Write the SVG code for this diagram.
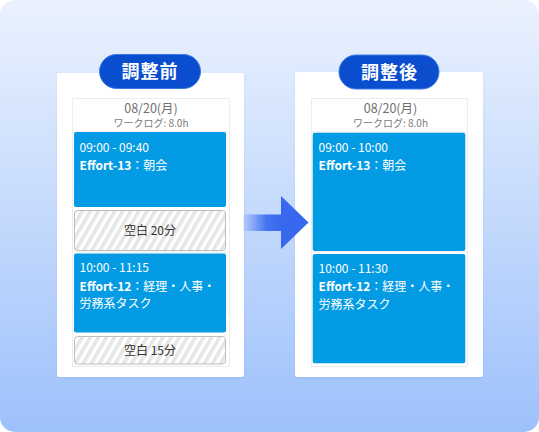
<svg xmlns="http://www.w3.org/2000/svg" width="539" height="432" viewBox="0 0 539 432">
  <defs>
    <linearGradient id="bg" x1="0" y1="0" x2="0" y2="1">
      <stop offset="0" stop-color="#ebf2fe"/>
      <stop offset="1" stop-color="#9dc1fb"/>
    </linearGradient>
    <linearGradient id="shaft" x1="243" y1="0" x2="282" y2="0" gradientUnits="userSpaceOnUse">
      <stop offset="0" stop-color="#3768ee" stop-opacity="0.08"/>
      <stop offset="0.6" stop-color="#3768ee" stop-opacity="0.9"/>
      <stop offset="1" stop-color="#3768ee"/>
    </linearGradient>
    <pattern id="stripes" width="7" height="7" patternUnits="userSpaceOnUse" patternTransform="rotate(30)">
      <rect width="7" height="7" fill="#ffffff"/>
      <rect width="3.6" height="7" fill="#e6e6e6"/>
    </pattern>
    <filter id="shadow" x="-10%" y="-10%" width="120%" height="120%">
      <feDropShadow dx="0" dy="1" stdDeviation="1.2" flood-color="#5d7fb8" flood-opacity="0.18"/>
    </filter>
  </defs>
  <style>
    text { font-family: "Noto Sans CJK JP", "Noto Sans", sans-serif; }
    .card { fill: #ffffff; filter: url(#shadow); }
    .col { fill: #ffffff; stroke: #ececec; stroke-width: 1; }
    .grid { stroke: #ececec; stroke-width: 1; }
    .badge { fill: #0a4ecf; stroke: #3c7ae4; stroke-width: 1; }
    .badge-t { fill: #ffffff; font-size: 18px; font-weight: 700; text-anchor: middle; letter-spacing: 1px; }
    .date { fill: #6f6f6f; font-size: 12.5px; text-anchor: middle; }
    .log { fill: #7a7a7a; font-size: 10px; text-anchor: middle; }
    .ev { fill: #049be5; }
    .ev-t { fill: #ffffff; font-size: 12px; }
    .b { font-weight: 700; }
    .gap { fill: url(#stripes); stroke: #bdbdbd; stroke-width: 1; }
    .gap-t { fill: #333333; font-size: 12px; text-anchor: middle; }
  </style>

  <rect x="0" y="0" width="539" height="432" rx="15" fill="url(#bg)"/>

  <g id="before">
    <rect class="card" x="57" y="73" width="187" height="304" rx="2"/>
    <rect class="col" x="72.5" y="98.5" width="157" height="268"/>
    <line class="grid" x1="72.5" y1="132" x2="229.5" y2="132"/>
    <line class="grid" x1="72.5" y1="192" x2="229.5" y2="192"/>
    <line class="grid" x1="72.5" y1="252" x2="229.5" y2="252"/>
    <line class="grid" x1="72.5" y1="313" x2="229.5" y2="313"/>
    <rect class="badge" x="99.5" y="54.5" width="101" height="34" rx="17"/>
    <text class="badge-t" x="150" y="78">調整前</text>
    <text class="date" x="151" y="112.5">08/20(月)</text>
    <text class="log" x="151" y="127">ワークログ: 8.0h</text>
    <g id="before-ev1">
      <rect class="ev" x="74" y="132" width="152" height="75" rx="2"/>
      <text class="ev-t" x="79.5" y="151.5">09:00 - 09:40</text>
      <text class="ev-t" x="79.5" y="169.5"><tspan class="b">Effort-13</tspan>：朝会</text>
    </g>
    <g id="before-gap1">
      <rect class="gap" x="74.5" y="210.5" width="151" height="40" rx="3"/>
      <text class="gap-t" x="150" y="235">空白 20分</text>
    </g>
    <g id="before-ev2">
      <rect class="ev" x="74" y="253.5" width="152" height="79" rx="2"/>
      <text class="ev-t" x="79.5" y="272">10:00 - 11:15</text>
      <text class="ev-t" x="79.5" y="290.5"><tspan class="b">Effort-12</tspan>：経理・人事・</text>
      <text class="ev-t" x="79.5" y="308">労務系タスク</text>
    </g>
    <g id="before-gap2">
      <rect class="gap" x="74.5" y="336.5" width="151" height="27.5" rx="3"/>
      <text class="gap-t" x="150" y="355">空白 15分</text>
    </g>
  </g>

  <g id="after">
    <rect class="card" x="295" y="72" width="188" height="305" rx="2"/>
    <rect class="col" x="311.5" y="98.5" width="156" height="268"/>
    <line class="grid" x1="311.5" y1="132" x2="467.5" y2="132"/>
    <line class="grid" x1="311.5" y1="192" x2="467.5" y2="192"/>
    <line class="grid" x1="311.5" y1="252" x2="467.5" y2="252"/>
    <line class="grid" x1="311.5" y1="313" x2="467.5" y2="313"/>
    <rect class="badge" x="339" y="55" width="100" height="34" rx="17"/>
    <text class="badge-t" x="389.5" y="78.5">調整後</text>
    <text class="date" x="390.5" y="112.5">08/20(月)</text>
    <text class="log" x="390.5" y="127">ワークログ: 8.0h</text>
    <g id="after-ev1">
      <rect class="ev" x="312.7" y="132.7" width="152.6" height="118.3" rx="2"/>
      <text class="ev-t" x="318.5" y="152">09:00 - 10:00</text>
      <text class="ev-t" x="318.5" y="170"><tspan class="b">Effort-13</tspan>：朝会</text>
    </g>
    <g id="after-ev2">
      <rect class="ev" x="312.7" y="254" width="152.6" height="109.3" rx="2"/>
      <text class="ev-t" x="318.5" y="272.7">10:00 - 11:30</text>
      <text class="ev-t" x="318.5" y="291"><tspan class="b">Effort-12</tspan>：経理・人事・</text>
      <text class="ev-t" x="318.5" y="309">労務系タスク</text>
    </g>
  </g>

  <g id="connectors">
    <rect x="243" y="214.5" width="39" height="16.5" fill="url(#shaft)"/>
    <polygon points="281,196 308.5,222.5 281,249" fill="#3768ee"/>
  </g>
</svg>
